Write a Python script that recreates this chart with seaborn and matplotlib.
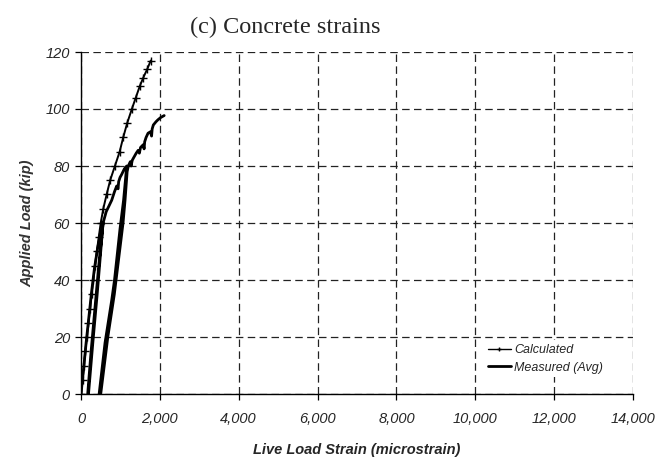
import matplotlib
matplotlib.use("Agg")
import matplotlib.pyplot as plt
import matplotlib.ticker as mticker
import seaborn as sns
import pandas as pd

# ---- data ----
calc_strain = [0, 40, 75, 110, 150, 190, 230, 270, 313, 355, 400, 450, 500, 565,
               650, 740, 860, 980, 1070, 1170, 1290, 1390, 1490, 1580, 1680, 1770]
calc_load = [0, 5, 10, 15, 20, 25, 30, 35, 40, 45, 50, 55, 60, 65,
             70, 75, 80, 85, 90, 95, 100, 104, 108, 111, 114, 117]

meas_strain = [0, 60, 130, 200, 270, 340, 420, 490, 560,
               450, 340, 250, 170,
               190, 300, 410, 500, 560,
               640, 710, 779, 850, 906, 940, 955, 990, 1030, 1100, 1160,
               1080, 990, 850, 780, 610, 460,
               500, 680, 845, 1066, 1117, 1170, 1200,
               1250, 1270, 1300, 1327, 1400, 1450, 1480, 1510, 1581, 1600, 1615,
               1650, 1700, 1760, 1790, 1805, 1835, 1900, 1950, 2020, 2070, 2110]
meas_load = [0, 8, 18, 27, 36, 44, 51, 56, 60,
             45, 28, 14, 0,
             0, 18, 35, 50, 60,
             64, 66, 68, 71, 73, 72, 74.5, 76, 77, 79, 80,
             68, 58, 40, 33, 18, 0,
             0, 20, 35, 60, 68, 78, 80,
             81.5, 80, 82, 82.7, 84.5, 85.5, 84.5, 86.5, 87.5, 86, 88.5,
             90, 91.5, 92, 90.5, 93, 94.4, 95.5, 96.2, 97, 97.4, 97.7]

x_ticks = [0, 2000, 4000, 6000, 8000, 10000, 12000, 14000]
y_ticks = [0, 20, 40, 60, 80, 100, 120]

title_text = "(c) Concrete strains"
x_label = "Live Load Strain (microstrain)"
y_label = "Applied Load (kip)"
calc_name = "Calculated"
meas_name = "Measured (Avg)"

calc_df = pd.DataFrame({"strain": calc_strain, "load": calc_load})
meas_df = pd.DataFrame({"strain": meas_strain, "load": meas_load})

# ---- styling ----
sns.set_style("white")
plt.rcParams["font.family"] = ["Liberation Sans", "DejaVu Sans"]

fig = plt.figure(figsize=(6.56, 4.61), dpi=100)
ax = fig.add_axes([81 / 656, 1 - 394 / 461, (633 - 81) / 656, (394 - 52) / 461])

sns.lineplot(data=calc_df, x="strain", y="load", ax=ax, sort=False, estimator=None,
             color="black", linewidth=1.4, linestyle="-", marker="+", markersize=5.5,
             markeredgewidth=1.0, markeredgecolor="black", markerfacecolor="black",
             label=calc_name)
sns.lineplot(data=meas_df, x="strain", y="load", ax=ax, sort=False, estimator=None,
             color="black", linewidth=2.0, linestyle="-", label=meas_name)

ax.set_xlim(0, 14000)
ax.set_ylim(0, 120)
ax.set_xticks(x_ticks)
ax.set_yticks(y_ticks)
ax.xaxis.set_major_formatter(mticker.FuncFormatter(lambda v, p: f"{int(v):,}"))

ax.grid(True, color="#222222", linestyle=(0, (6, 3.5)), linewidth=0.9)
for s in ["top", "right"]:
    ax.spines[s].set_visible(False)
for s in ["left", "bottom"]:
    ax.spines[s].set_color("black")
    ax.spines[s].set_linewidth(1.0)

ax.tick_params(axis="both", which="major", direction="out", length=4, width=0.9,
               color="black", labelsize=10.5, bottom=True, left=True)
ax.tick_params(axis="x", pad=9)
ax.tick_params(axis="y", pad=4)
for lab in ax.get_xticklabels() + ax.get_yticklabels():
    lab.set_fontstyle("italic")

ax.set_xlabel(x_label, fontsize=10.5, fontweight="bold", fontstyle="italic", labelpad=12)
ax.set_ylabel(y_label, fontsize=10.5, fontweight="bold", fontstyle="italic",
              color="#333333", labelpad=8)

fig.text(285 / 656, 1 - 27 / 461, title_text, ha="center", va="center",
         fontsize=17.5, family=["Liberation Serif", "DejaVu Serif"])

leg = ax.legend(loc="upper left", bbox_to_anchor=(478 / 656, 1 - 334 / 461),
                bbox_transform=fig.transFigure, frameon=True, fancybox=False,
                facecolor="white", edgecolor="none", framealpha=1,
                handlelength=1.8, handletextpad=0.3, labelspacing=0.45,
                borderpad=0.3, prop={"size": 9, "style": "italic"})
for line in leg.get_lines():
    line.set_markersize(3)
    line.set_linewidth(min(line.get_linewidth(), 2.0))
leg.get_lines()[0].set_linewidth(1.0)

fig.savefig("out.png", dpi=100)
